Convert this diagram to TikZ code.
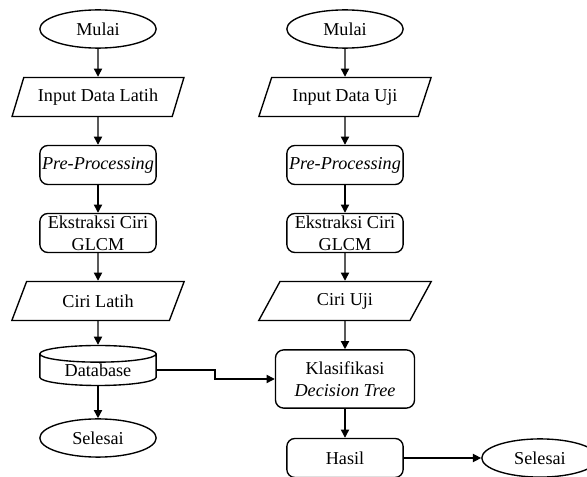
\documentclass[tikz,border=0pt]{standalone}
\usepackage{fontspec}
\setmainfont{Liberation Serif}
\usetikzlibrary{shapes,shapes.geometric,arrows.meta}

\tikzset{
  term/.style={shape=ellipse,draw,minimum width=64pt,minimum height=21pt,inner sep=0pt},
  proc/.style={shape=rectangle,draw,rounded corners=4.5pt,minimum width=64pt,minimum height=21.5pt,inner sep=0pt,align=center},
  io/.style={shape=trapezium,draw,trapezium left angle=60,trapezium right angle=120,trapezium stretches=true,minimum width=95pt,minimum height=21.5pt,inner sep=0pt},
  db/.style={shape=cylinder,draw,shape border rotate=90,aspect=0.25,minimum width=64pt,minimum height=22pt,inner sep=0pt},
  flow/.style={-{Triangle[length=4.5pt,width=4.5pt]}}
}

\begin{document}
\begin{tikzpicture}[x=0.55pt,y=-0.55pt,line width=0.75pt]
  \useasboundingbox (0,0) rectangle (587,477);
  % data latih
  \node[term] (mulaiA) at (98,29) {Mulai};
  \node[io] (inA) at (98,97) {Input Data Latih};
  \node[proc] (preA) at (98,165) {\textit{Pre-Processing}};
  \node[proc] (ekA) at (98,233) {Ekstraksi Ciri\\GLCM};
  \node[io] (ciriA) at (98,301) {Ciri Latih};
  \node[db] (db) at (98,370) {Database};
  \node[term] (selA) at (98,438) {Selesai};
  % data uji
  \node[term] (mulaiB) at (345,29) {Mulai};
  \node[io] (inB) at (345,97) {Input Data Uji};
  \node[proc] (preB) at (345,165) {\textit{Pre-Processing}};
  \node[proc] (ekB) at (345,233) {Ekstraksi Ciri\\GLCM};
  \node[io] (ciriB) at (345,301) {Ciri Uji};
  \node[proc,minimum width=76.5pt,minimum height=32pt] (klas) at (345,379) {Klasifikasi\\\textit{Decision Tree}};
  \node[proc] (hasil) at (345,458) {Hasil};
  \node[term] (selB) at (540,458) {Selesai};

  \draw[flow] (mulaiA) -- (inA);
  \draw[flow] (inA) -- (preA);
  \draw[flow] (preA) -- (ekA);
  \draw[flow] (ekA) -- (ciriA);
  \draw[flow] (ciriA) -- (db);
  \draw[flow] (db) -- (selA);
  \draw[flow] (mulaiB) -- (inB);
  \draw[flow] (inB) -- (preB);
  \draw[flow] (preB) -- (ekB);
  \draw[flow] (ekB) -- (ciriB);
  \draw[flow] (ciriB) -- (klas);
  \draw[flow] (klas) -- (hasil);
  \draw[flow] (hasil) -- (selB);
  \draw[flow] (db.east) -- ++(58,0) |- (klas.west);
\end{tikzpicture}
\end{document}
